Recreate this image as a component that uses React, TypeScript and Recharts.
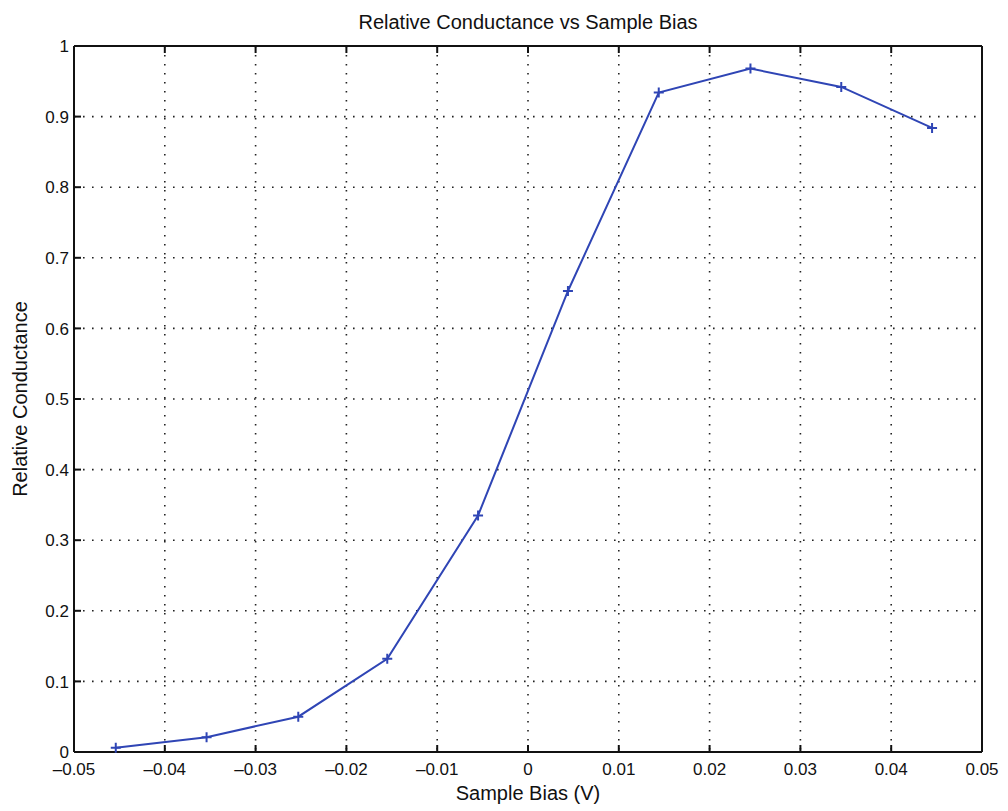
import { LineChart, Line, XAxis, YAxis, CartesianGrid } from 'recharts'

const biasVolts = [-0.0454, -0.0354, -0.0253, -0.0155, -0.0055, 0.0044, 0.0144, 0.0245, 0.0345, 0.0445]
const conductance = [0.006, 0.021, 0.05, 0.132, 0.335, 0.653, 0.934, 0.968, 0.942, 0.884]

const xTicks = [-0.05, -0.04, -0.03, -0.02, -0.01, 0, 0.01, 0.02, 0.03, 0.04, 0.05]
const yTicks = [0, 0.1, 0.2, 0.3, 0.4, 0.5, 0.6, 0.7, 0.8, 0.9, 1]

const data = biasVolts.map((x, i) => ({ x, y: conductance[i] }))

const LINE_BLUE = '#2f45b5'
const INK = '#111'
const FONT = 'Arial, "Liberation Sans", Helvetica, sans-serif'

const fmt = (v: number) => {
  const s = String(Math.round(v * 100) / 100)
  return s.replace('-', '\u2013')
}

const PlusDot = ({ cx, cy, index }: any) => {
  if (cx == null || cy == null) return <g key={index} />
  const r = 5
  return (
    <path
      key={index}
      d={`M${cx - r},${cy}H${cx + r}M${cx},${cy - r}V${cy + r}`}
      stroke={LINE_BLUE}
      strokeWidth={2}
      fill="none"
    />
  )
}

const BottomTick = ({ x, y, payload }: any) => (
  <text x={x} y={y} dy="0.75em" textAnchor="middle" fill={INK} stroke="none" fontSize={17} fontFamily={FONT}>
    {fmt(payload.value)}
  </text>
)

const LeftTick = ({ x, y, payload }: any) => (
  <text x={x} y={y} dy="0.36em" textAnchor="end" fill={INK} stroke="none" fontSize={17} fontFamily={FONT}>
    {fmt(payload.value)}
  </text>
)

const emptyTick = () => <g />

export default function App() {
  return (
    <div
      style={{
        position: 'absolute',
        left: 0,
        top: 0,
        width: 1008,
        height: 811,
        background: '#fff',
        fontFamily: FONT,
      }}
    >
      <div
        style={{
          position: 'absolute',
          left: 74,
          width: 908,
          top: 11,
          textAlign: 'center',
          fontSize: 20,
          color: INK,
        }}
      >
        Relative Conductance vs Sample Bias
      </div>
      <LineChart
        width={1008}
        height={811}
        data={data}
        margin={{ top: 45, right: 25, bottom: 29, left: 14 }}
      >
        <CartesianGrid
          xAxisId="b"
          yAxisId="l"
          stroke="#222"
          strokeWidth={1.6}
          strokeDasharray="1.6 7.4"
          horizontalValues={yTicks}
          verticalValues={xTicks}
        />
        <XAxis
          xAxisId="b"
          dataKey="x"
          type="number"
          domain={[-0.05, 0.05]}
          ticks={xTicks}
          height={30}
          stroke={INK}
          strokeWidth={2}
          tickSize={-7}
          tickMargin={17}
          tick={BottomTick}
          label={{
            value: 'Sample Bias (V)',
            position: 'bottom',
            offset: 4,
            style: { fill: INK, stroke: 'none', fontSize: 20, fontFamily: FONT },
          }}
        />
        <XAxis
          xAxisId="t"
          orientation="top"
          dataKey="x"
          type="number"
          domain={[-0.05, 0.05]}
          ticks={xTicks}
          height={1}
          stroke={INK}
          strokeWidth={2}
          tickSize={-7}
          tick={emptyTick}
        />
        <YAxis
          yAxisId="l"
          type="number"
          domain={[0, 1]}
          ticks={yTicks}
          width={60}
          stroke={INK}
          strokeWidth={2}
          tickSize={-7}
          tickMargin={12}
          tick={LeftTick}
          label={{
            value: 'Relative Conductance',
            angle: -90,
            position: 'insideLeft',
            offset: 6,
            style: { fill: INK, stroke: 'none', fontSize: 20, fontFamily: FONT, textAnchor: 'middle' },
          }}
        />
        <YAxis
          yAxisId="r"
          orientation="right"
          type="number"
          domain={[0, 1]}
          ticks={yTicks}
          width={1}
          stroke={INK}
          strokeWidth={2}
          tickSize={-7}
          tick={emptyTick}
        />
        <Line
          xAxisId="b"
          yAxisId="l"
          type="linear"
          dataKey="y"
          stroke={LINE_BLUE}
          strokeWidth={2}
          dot={PlusDot}
          activeDot={false}
          isAnimationActive={false}
        />
      </LineChart>
    </div>
  )
}
